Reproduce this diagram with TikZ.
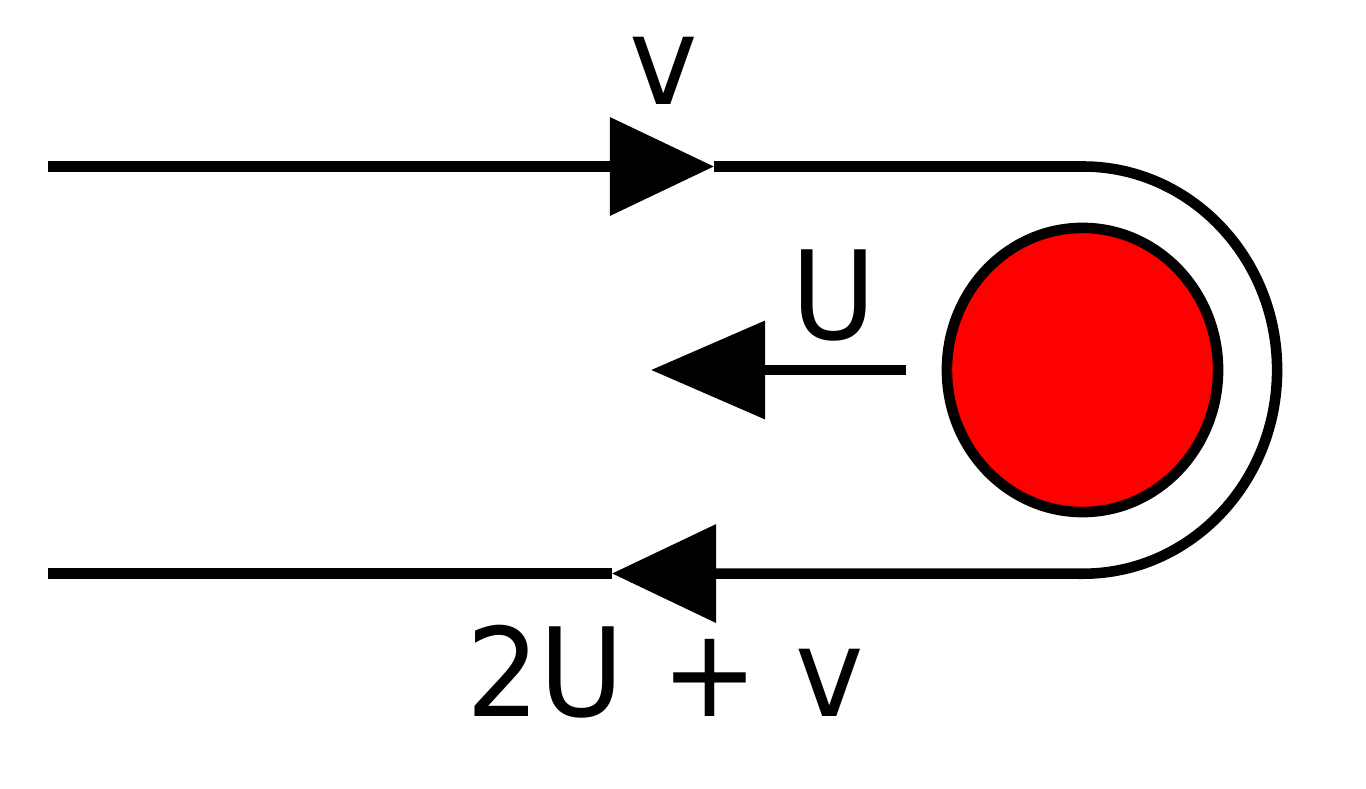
\documentclass[tikz,border=0pt]{standalone}
\usepackage{fontspec}
\setmainfont{DejaVu Sans}
\usetikzlibrary{arrows.meta}
\usetikzlibrary{shapes.geometric}

\newcommand{\lab}[1]{\scalebox{0.94}[1]{#1}}

\begin{document}
\begin{tikzpicture}[x=0.01cm,y=-0.01cm,line width=3pt]
\useasboundingbox (0,0) rectangle (1366,789);

% flow line
\coordinate (tl) at (48,166.5);
\coordinate (ttip) at (714,166.5);
\coordinate (tr) at (1083,166.5);
\coordinate (btip) at (612,573.5);
\coordinate (bl) at (48,573.5);
\coordinate (utip) at (651,370);

\node[ellipse,draw,fill=red,inner sep=0pt,
      minimum width=2.71cm,minimum height=2.84cm] (ball) at (1082.5,370) {};

\begin{scope}[>={Triangle[length=1.04cm,width=0.96cm]},
              every node/.style={font=\fontsize{35}{42}\selectfont,anchor=base,inner sep=0pt}]
	\draw[->] (tl) -- (ttip);
	\draw[->] (ttip) -- (tr)
	    arc[start angle=90,end angle=-90,x radius=1.94cm,y radius=2.035cm]
	    -- (btip);
	\draw (btip) -- (bl);
	\draw[-{Triangle[length=1.14cm,width=0.96cm]}] ([xshift=-0.355cm]ball.west) -- (utip);

	\node (vlab) at (664,105) {\lab{v}};
	\node (ulab) at (834,340) {\lab{U}};
	\node (slab) at (665,717) {\lab{2U + v}};
\end{scope}
\end{tikzpicture}
\end{document}
